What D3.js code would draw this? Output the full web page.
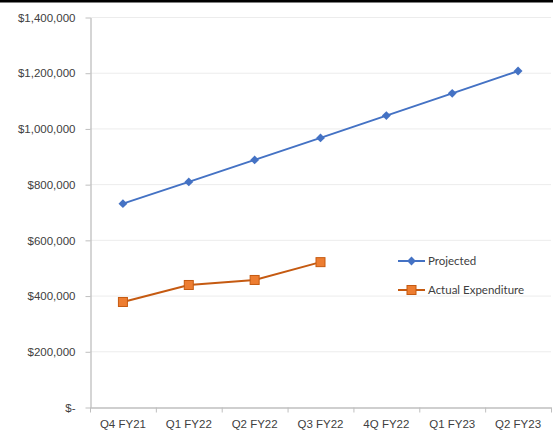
<!DOCTYPE html>
<html>
<head>
<meta charset="utf-8">
<script src="https://cdn.jsdelivr.net/npm/d3@7"></script>
<style>
  body { margin: 0; background: #fff; }
  svg { display: block; font-family: Lato, "Open Sans", sans-serif; }
</style>
</head>
<body>
<div id="chart-container"></div>
<script>
// Chart data
const categories = ["Q4 FY21", "Q1 FY22", "Q2 FY22", "Q3 FY22", "4Q FY22", "Q1 FY23", "Q2 FY23"];
const projected = [730000, 808000, 887000, 966000, 1046000, 1126000, 1206000];
const actual = [377000, 438000, 456000, 520000];
const yTicks = [0, 200000, 400000, 600000, 800000, 1000000, 1200000, 1400000];

const W = 553, H = 432;
const margin = { top: 17, right: 2, bottom: 25, left: 90 };

const svg = d3.select("#chart-container")
    .append("svg")
    .attr("width", W)
    .attr("height", H);

// black rule at the top of the picture
svg.append("rect").attr("x", 0).attr("y", 0).attr("width", W).attr("height", 2.5).attr("fill", "#000");

const x = d3.scaleBand()
    .domain(categories)
    .range([margin.left, W - margin.right]);

const y = d3.scaleLinear()
    .domain([0, 1400000])
    .range([H - margin.bottom, margin.top]);

// gridlines
svg.append("g")
    .selectAll("line")
    .data(yTicks.slice(1))
    .enter()
    .append("line")
    .attr("x1", margin.left)
    .attr("x2", W - margin.right)
    .attr("y1", d => y(d) + 0.5)
    .attr("y2", d => y(d) + 0.5)
    .attr("stroke", "#ececec");

const fmt = d => d === 0 ? "$-" : "$" + d3.format(",")(d);

// y axis
const yAxis = svg.append("g")
    .attr("transform", `translate(${margin.left + 0.5},0.5)`)
    .call(d3.axisLeft(y).tickValues(yTicks).tickFormat(fmt).tickSizeInner(5).tickSizeOuter(0).tickPadding(10));
yAxis.select(".domain").attr("stroke", "#bfbfbf").attr("stroke-width", 1.3);
yAxis.selectAll(".tick line").attr("stroke", "#bfbfbf");
yAxis.selectAll("text").attr("font-size", 11.5).attr("fill", "#404040");

// x axis with ticks between categories
const xAxis = svg.append("g")
    .attr("transform", `translate(0,${H - margin.bottom + 0.5})`)
    .call(d3.axisBottom(x).tickSize(0).tickPadding(12));
xAxis.select(".domain").attr("stroke", "#bfbfbf").attr("stroke-width", 1.3);
xAxis.selectAll("text").attr("font-size", 11.5).attr("fill", "#404040");
xAxis.selectAll(".sep")
    .data(categories.concat([null]))
    .enter()
    .append("line")
    .attr("class", "sep")
    .attr("x1", (d, i) => x.range()[0] + i * x.step() + 0.5)
    .attr("x2", (d, i) => x.range()[0] + i * x.step() + 0.5)
    .attr("y1", 0)
    .attr("y2", 5)
    .attr("stroke", "#bfbfbf");

const cx = (d, i) => x(categories[i]) + x.bandwidth() / 2;
const line = d3.line().x(cx).y(d => y(d));

// Projected series
svg.append("path")
    .datum(projected)
    .attr("d", line)
    .attr("fill", "none")
    .attr("stroke", "#4472C4")
    .attr("stroke-width", 2);
svg.selectAll(".proj")
    .data(projected)
    .enter()
    .append("path")
    .attr("class", "proj")
    .attr("d", d3.symbol(d3.symbolDiamond2, 50))
    .attr("transform", (d, i) => `translate(${cx(d, i)},${y(d)})`)
    .attr("fill", "#4472C4");

// Actual series
svg.append("path")
    .datum(actual)
    .attr("d", line)
    .attr("fill", "none")
    .attr("stroke", "#C55A11")
    .attr("stroke-width", 2);
svg.selectAll(".act")
    .data(actual)
    .enter()
    .append("rect")
    .attr("class", "act")
    .attr("x", (d, i) => cx(d, i) - 4.5)
    .attr("y", d => y(d) - 4.5)
    .attr("width", 9)
    .attr("height", 9)
    .attr("fill", "#ED7D31")
    .attr("stroke", "#C55A11")
    .attr("stroke-width", 1);

// legend
const legend = [
    { name: "Projected", color: "#4472C4", y: 261, shape: "diamond" },
    { name: "Actual Expenditure", color: "#C55A11", y: 290, shape: "square" }
];
const lg = svg.append("g");
legend.forEach(l => {
    lg.append("line")
        .attr("x1", 398).attr("x2", 425)
        .attr("y1", l.y).attr("y2", l.y)
        .attr("stroke", l.color).attr("stroke-width", 2);
    if (l.shape === "diamond") {
        lg.append("path")
            .attr("d", d3.symbol(d3.symbolDiamond2, 50))
            .attr("transform", `translate(411.5,${l.y})`)
            .attr("fill", l.color);
    } else {
        lg.append("rect")
            .attr("x", 407).attr("y", l.y - 4.5)
            .attr("width", 9).attr("height", 9)
            .attr("fill", "#ED7D31").attr("stroke", "#C55A11");
    }
    lg.append("text")
        .attr("x", 428).attr("y", l.y + 4)
        .attr("font-size", 11.5)
        .attr("fill", "#404040")
        .text(l.name);
});
</script>
</body>
</html>
